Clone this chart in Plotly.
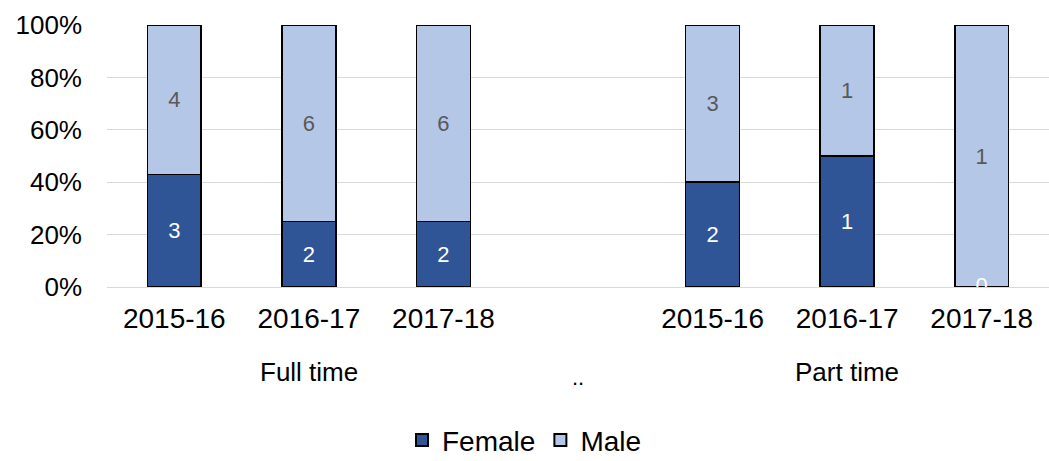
import plotly.graph_objects as go

# Students by mode of study and academic year
groups = ["Full time", "..", "Part time"]
group_sizes = [3, 1, 3]
years = ["2015-16", "2016-17", "2017-18", "", "2015-16", "2016-17", "2017-18"]
female = [3, 2, 2, None, 2, 1, 0]
male = [4, 6, 6, None, 3, 1, 1]
pct_ticks = [0, 20, 40, 60, 80, 100]

FEMALE_COLOR = "#2F5597"
MALE_COLOR = "#B4C7E7"
FONT = "Liberation Sans, Arial, sans-serif"

x = list(range(len(years)))

fig = go.Figure()
fig.add_trace(go.Bar(
    x=x, y=female, name="Female",
    marker=dict(color=FEMALE_COLOR, line=dict(color="#000000", width=1.5)),
    text=[("" if v is None else str(v)) for v in female],
    textposition="inside", insidetextanchor="middle",
    textfont=dict(color="#FFFFFF", size=22, family=FONT),
))
fig.add_trace(go.Bar(
    x=x, y=male, name="Male",
    marker=dict(color=MALE_COLOR, line=dict(color="#000000", width=1.5)),
    text=[("" if v is None else str(v)) for v in male],
    textposition="inside", insidetextanchor="middle",
    textfont=dict(color="#595959", size=22, family=FONT),
))

# zero counts have no bar height, so their labels are placed on the baseline
zero_x = [i for i, v in enumerate(female) if v == 0]
fig.add_trace(go.Scatter(
    x=zero_x, y=[0] * len(zero_x), mode="text",
    text=["0"] * len(zero_x), textposition="middle center",
    textfont=dict(color="#FFFFFF", size=22, family=FONT),
    showlegend=False, hoverinfo="skip", cliponaxis=True,
))

# group labels beneath the year ticks
start = 0
for g, n in zip(groups, group_sizes):
    center = start + (n - 1) / 2
    fig.add_annotation(
        x=center, xref="x", y=0, yref="paper", yanchor="middle",
        yshift=-85 if g != ".." else -90, text=g, showarrow=False,
        font=dict(size=26 if g != ".." else 22, family=FONT, color="#000000"),
    )
    start += n

fig.update_layout(
    width=1049, height=461,
    margin=dict(l=107, r=0, t=25, b=174),
    barmode="stack", barnorm="percent", bargap=0.6,
    paper_bgcolor="#FFFFFF", plot_bgcolor="#FFFFFF",
    font=dict(family=FONT, size=26, color="#000000"),
    showlegend=True,
    legend=dict(
        orientation="h", xref="container", yref="container",
        x=0.5, xanchor="center", y=0.045, yanchor="middle",
        font=dict(size=28, family=FONT), traceorder="normal",
        itemwidth=30, itemsizing="constant",
    ),
    xaxis=dict(
        tickmode="array", tickvals=x, ticktext=years,
        range=[-0.5, len(years) - 0.5],
        showgrid=False, zeroline=False, showline=False, ticks="",
        tickfont=dict(size=28, family=FONT), ticklabelstandoff=12,
    ),
    yaxis=dict(
        range=[0, 100], tickmode="array", tickvals=pct_ticks,
        ticktext=[f"{v}%" for v in pct_ticks],
        showgrid=True, gridcolor="#D9D9D9", gridwidth=1,
        zeroline=True, zerolinecolor="#D9D9D9", zerolinewidth=1,
        ticks="", tickfont=dict(size=26, family=FONT), ticklabelstandoff=24,
    ),
)

fig.write_html("out.html")
